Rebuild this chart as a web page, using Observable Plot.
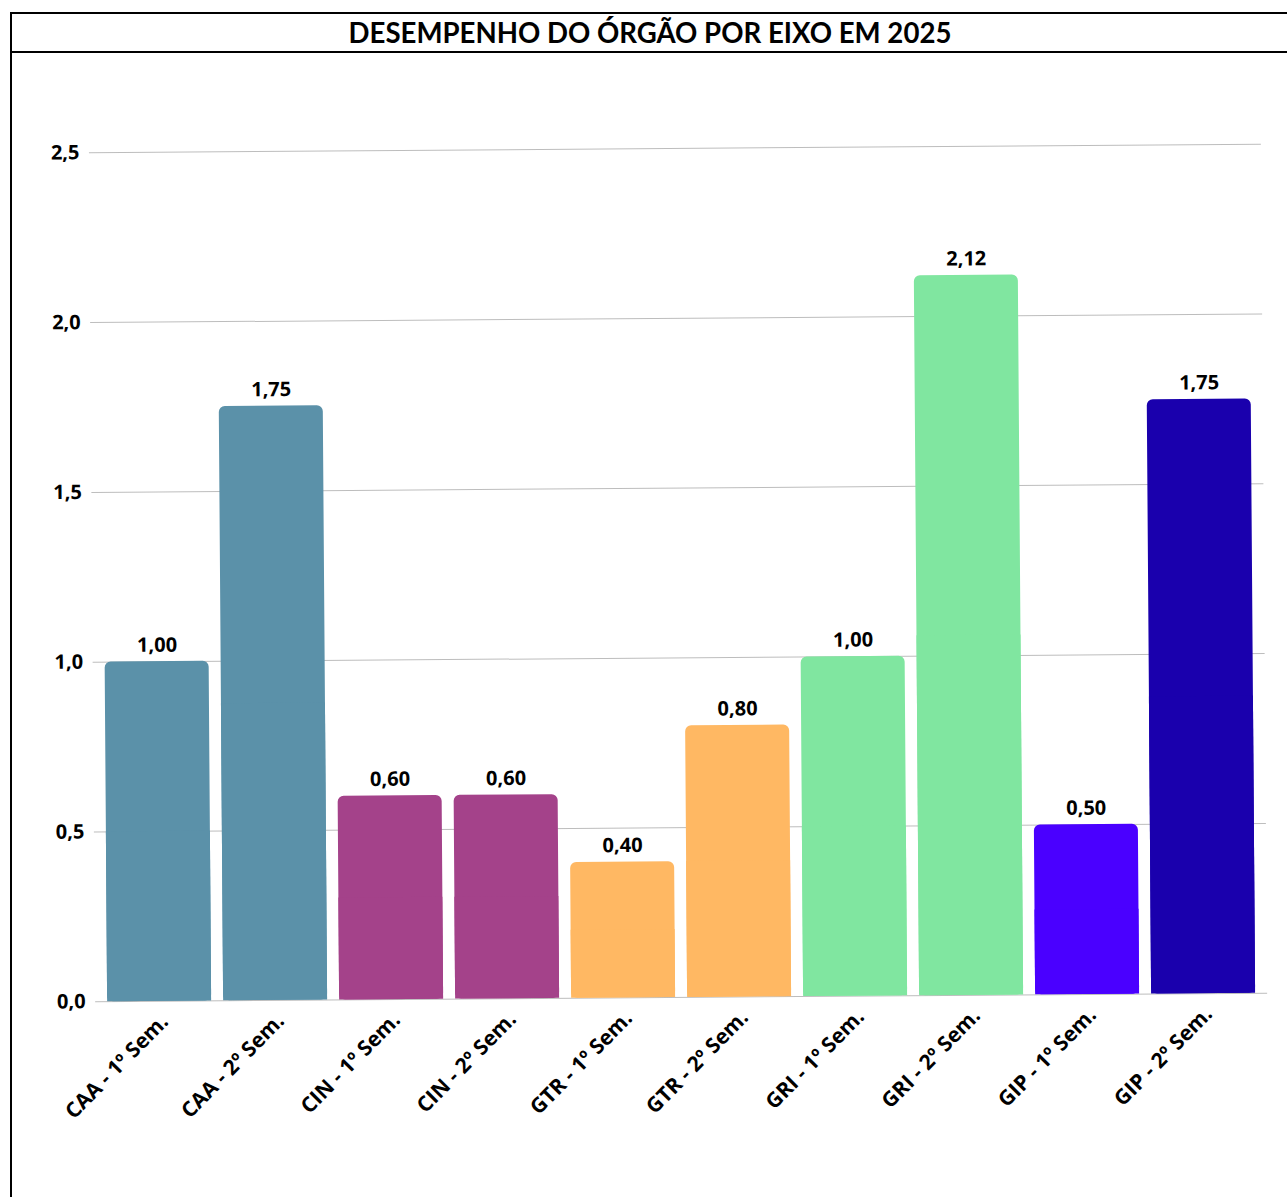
<!DOCTYPE html>
<html>
<head>
<meta charset="utf-8">
<script src="https://cdn.jsdelivr.net/npm/d3@7"></script>
<script src="https://cdn.jsdelivr.net/npm/@observablehq/plot@0.6"></script>
<style>
  html, body { margin: 0; padding: 0; background: #fff; overflow: hidden; }
  #frame { position: absolute; left: 10px; top: 12px; width: 1290px; height: 1200px;
           border-left: 2px solid #000; border-top: 2px solid #000; box-sizing: border-box; }
  #title { position: absolute; left: 10px; top: 12px; width: 1280px; height: 41px;
           border-bottom: 2px solid #000; box-sizing: border-box;
           font-family: Lato, sans-serif; font-weight: 700; font-size: 27.6px;
           text-align: center; line-height: 41px; color: #000; }
  #chart { position: absolute; left: 0; top: 52px; transform: rotate(-0.42deg); transform-origin: 675px 520px; }
</style>
</head>
<body>
<div id="frame"></div>
<div id="title">DESEMPENHO DO ÓRGÃO POR EIXO EM 2025</div>
<div id="chart"></div>
<script>
const categories = ["CAA - 1º Sem.", "CAA - 2º Sem.", "CIN - 1º Sem.", "CIN - 2º Sem.", "GTR - 1º Sem.",
                    "GTR - 2º Sem.", "GRI - 1º Sem.", "GRI - 2º Sem.", "GIP - 1º Sem.", "GIP - 2º Sem."];
const values = [1.00, 1.75, 0.60, 0.60, 0.40, 0.80, 1.00, 2.12, 0.50, 1.75];
const colors = ["#5b91a9", "#5b91a9", "#a4428a", "#a4428a", "#ffb863",
                "#ffb863", "#80e6a0", "#80e6a0", "#4a00ff", "#1a00ad"];
const yTicks = [0, 0.5, 1.0, 1.5, 2.0, 2.5];

const data = categories.map((c, i) => ({cat: c, value: values[i], color: colors[i]}));
const fmt1 = d => d.toFixed(1).replace(".", ",");
const fmt2 = d => d.toFixed(2).replace(".", ",");

const chart = Plot.plot({
  width: 1287,
  height: 1145,
  marginLeft: 92,
  marginRight: 23,
  marginTop: 96,
  marginBottom: 200,
  style: {fontFamily: "'Open Sans', sans-serif", fontWeight: 700, fontSize: "20px", color: "#000", background: "transparent", overflow: "visible"},
  x: {domain: categories, padding: 0.1, label: null},
  y: {domain: [0, 2.5], ticks: yTicks, tickFormat: fmt1, label: null, tickSize: 0, tickPadding: 10},
  marks: [
    Plot.gridY(yTicks, {stroke: "#bdbdbd", strokeOpacity: 1, strokeWidth: 1}),
    Plot.barY(data, {x: "cat", y: "value", fill: d => d.color, rx: 6}),
    Plot.barY(data, {x: "cat", y1: 0, y2: d => d.value / 2, fill: d => d.color}),
    Plot.text(data, {x: "cat", y: "value", text: d => fmt2(d.value), dy: -10, lineAnchor: "bottom",
                     fontSize: 20, fontWeight: 700, fill: "#000"}),
    Plot.axisX({label: null, tickSize: 0, tickPadding: 17, tickRotate: -45, dx: 5, fontSize: 21, fontWeight: 700, fill: "#000"})
  ]
});
chart.querySelectorAll("[aria-label='x-axis tick label'] text, [aria-label='y-axis tick label'] text").forEach(t => t.setAttribute("fill", "#000"));
document.getElementById("chart").appendChild(chart);
</script>
</body>
</html>
